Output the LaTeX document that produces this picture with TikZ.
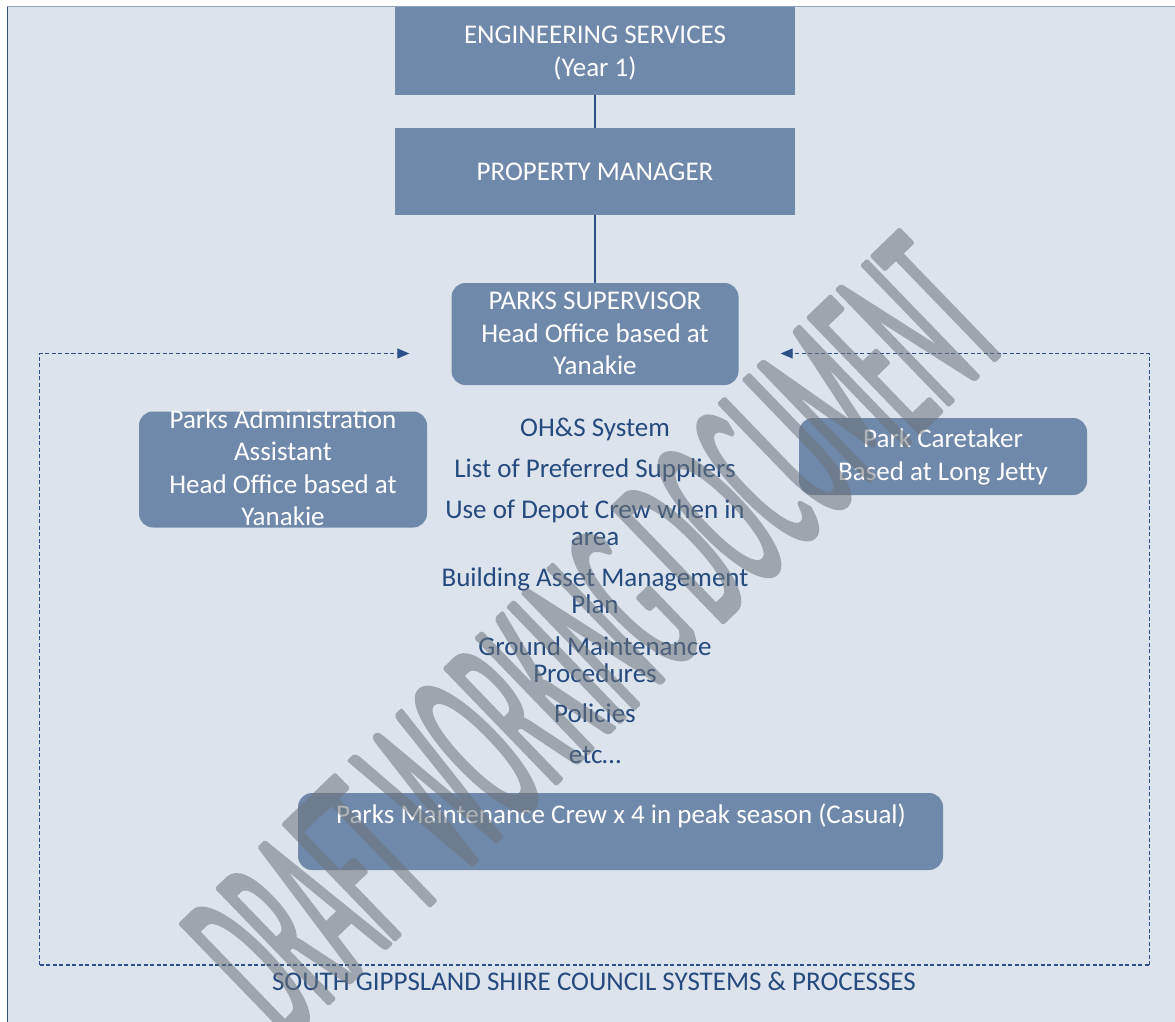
\documentclass[tikz,border=0pt]{standalone}
\usepackage{fontspec}
\setmainfont{Carlito}
\newfontfamily\wmfont[FakeStretch=0.33]{Carlito}
\usetikzlibrary{arrows.meta,calc}
\definecolor{bgc}{RGB}{220,227,236}
\definecolor{boxc}{RGB}{111,137,170}
\definecolor{txtc}{RGB}{36,74,126}
\definecolor{linec}{RGB}{44,80,135}
\definecolor{framel}{RGB}{47,79,128}
\definecolor{framet}{RGB}{141,160,190}
\definecolor{wmc}{RGB}{110,115,124}
\newcommand{\ls}{\rule[-4pt]{0pt}{25pt}}
\begin{document}
\begin{tikzpicture}[x=1pt,y=-1pt,
  sqbox/.style={rectangle, fill=boxc, draw=none, inner sep=0pt},
  rbox/.style={rectangle, rounded corners=14pt, fill=boxc, draw=none, inner sep=0pt},
  boxtext/.style={text=white, font=\fontsize{27}{32.5}\selectfont, align=center, inner sep=0pt},
  listtext/.style={text=txtc, font=\fontsize{27}{27}\selectfont, align=center, inner sep=0pt},
  conn/.style={draw=linec, line width=1.2pt},
  dashline/.style={draw=linec, line width=1.1pt, dash pattern=on 4pt off 2.5pt},
  dasharrow/.style={dashline, -{Triangle[length=12pt,width=10pt]}, shorten >=42pt}
]
\useasboundingbox (0,0) rectangle (1175,1022);
\fill[white] (0,0) rectangle (1175,1022);
\fill[bgc] (7,7) rectangle (1175,1022);
\draw[framet, line width=1.5pt] (7,6.5) -- (1175,6.5);
\draw[framel, line width=1pt] (7.3,7) -- (7.3,1022);

% boxes
\node[sqbox, minimum width=400pt, minimum height=88pt] (eng) at (595,51) {};
\node[sqbox, minimum width=400pt, minimum height=87pt] (prop) at (595,171.5) {};
\node[rbox, minimum width=287pt, minimum height=102pt] (sup) at (595,334) {};
\node[rbox, minimum width=288pt, minimum height=116pt] (adm) at (283,469.5) {};
\node[rbox, minimum width=288pt, minimum height=77pt] (care) at (943,456.5) {};
\node[rbox, minimum width=645pt, minimum height=77pt] (mnt) at (620.5,831.5) {};

% box texts
\node[boxtext] (engT) at (595,51.5) {\ls ENGINEERING SERVICES\\\ls (Year 1)};
\node[boxtext] (propT) at (595,172) {\ls PROPERTY MANAGER};
\node[boxtext] (supT) at (595,333.5) {\ls PARKS SUPERVISOR\\\ls Head Office based at\\\ls Yanakie};
\node[boxtext] (admT) at (283,468.5) {\ls Parks Administration\\\ls Assistant\\\ls Head Office based at\\\ls Yanakie};
\node[boxtext] (careT) at (943,455.7) {\ls Park Caretaker\\\ls Based at Long Jetty};
\node[boxtext] (mntT) at (621,814.8) {\ls Parks Maintenance Crew x 4 in peak season (Casual)};

% connectors
\draw[conn] (eng.south) -- (prop.north);
\draw[conn] (prop.south) -- (sup.north);

% dashed frame
\coordinate (fbl) at (39.5,965);
\coordinate (fbr) at (1149.5,965);
\coordinate (ftl) at (39.5,353.5);
\coordinate (ftr) at (1149.5,353.5);
\draw[dasharrow] (fbl) -- (ftl) -- (ftl -| sup.west);
\draw[dasharrow] (fbr) -- (ftr) -- (ftr -| sup.east);
\draw[dashline] (fbl) -- (fbr);

% list
\node[listtext] (li1) at (595,428.2) {\ls OH\&S System};
\node[listtext] (li2) at (595,468.8) {\ls List of Preferred Suppliers};
\node[listtext] (li3) at (595,523.3) {\ls Use of Depot Crew when in\\\ls area};
\node[listtext] (li4) at (595,591.7) {\ls Building Asset Management\\\ls Plan};
\node[listtext] (li5) at (595,660) {\ls Ground Maintenance\\\ls Procedures};
\node[listtext] (li6) at (595,714.2) {\ls Policies};
\node[listtext] (li7) at (595,754.8) {\ls etc…};

\node[listtext] (sgsc) at (594,981.5) {\ls SOUTH GIPPSLAND SHIRE COUNCIL SYSTEMS \& PROCESSES};

% watermark
\begin{scope}[transparency group, opacity=0.55]
\node[text=wmc, rotate=44, font=\wmfont\fontsize{250}{250}\selectfont, inner sep=0pt] (wm) at (594,636) {\special{pdf:code 2 Tr 3.5 w 1 j 1 J}DRAFT WORKING DOCUMENT\special{pdf:code 0 Tr}};
\end{scope}
\end{tikzpicture}
\end{document}
